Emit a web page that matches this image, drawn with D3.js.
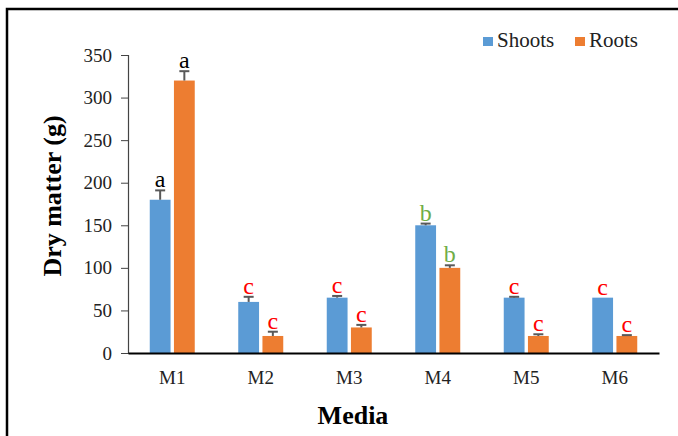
<!DOCTYPE html>
<html>
<head>
<meta charset="utf-8">
<title>Dry matter by media</title>
<script src="https://cdn.jsdelivr.net/npm/d3@7"></script>
<style>
  body { margin: 0; background: #fff; }
  svg { display: block; }
  svg text { font-family: "Liberation Serif", Tinos, "Times New Roman", serif; }
</style>
</head>
<body>
<script>
// data
var media = ["M1", "M2", "M3", "M4", "M5", "M6"];
var series = ["Shoots", "Roots"];
var shoots = [180, 60, 65, 150, 65, 65];
var roots = [320, 20, 30, 100, 20, 20];
var shootsErr = [11, 6, 2, 2, 1, 0];
var rootsErr = [11, 5, 3, 3, 2, 1];
var shootsLetters = ["a", "c", "c", "b", "c", "c"];
var rootsLetters = ["a", "c", "c", "b", "c", "c"];
var yTicks = [0, 50, 100, 150, 200, 250, 300, 350];

var w = 678, h = 436;
var colors = { Shoots: "#5B9BD5", Roots: "#ED7D31" };
var letterColors = { a: "#000000", b: "#70AD47", c: "#FF0000" };

var svg = d3.select("body").append("svg")
    .attr("width", w)
    .attr("height", h);

// outer frame (only left and top edges show in the picture)
svg.append("rect")
    .attr("x", 7).attr("y", 9)
    .attr("width", 700).attr("height", 460)
    .attr("fill", "none")
    .attr("stroke", "#000")
    .attr("stroke-width", 2.5);

var plotLeft = 128, plotRight = 659, plotTop = 55, plotBottom = 353;

var y = d3.scaleLinear().domain([0, 350]).range([plotBottom, plotTop]);
var x0 = d3.scaleBand().domain(media).range([plotLeft, plotRight]);
var bw = x0.bandwidth();
var x1 = d3.scaleBand().domain(series)
    .range([bw / 2 - 22.5, bw / 2 + 22.5])
    .paddingInner(0.14);

var flat = [];
media.forEach(function(m, i) {
  flat.push({ m: m, s: "Shoots", v: shoots[i], e: shootsErr[i], l: shootsLetters[i] });
  flat.push({ m: m, s: "Roots", v: roots[i], e: rootsErr[i], l: rootsLetters[i] });
});

function cx(d) { return x0(d.m) + x1(d.s) + x1.bandwidth() / 2; }

// y axis
var yAxis = svg.append("g")
    .attr("transform", "translate(" + plotLeft + ",0)")
    .call(d3.axisLeft(y).tickValues(yTicks).tickSize(7).tickPadding(9));
yAxis.attr("font-family", null);
yAxis.select(".domain").attr("stroke", "#444").attr("stroke-width", 1.2);
yAxis.selectAll(".tick line").attr("stroke", "#444");
yAxis.selectAll(".tick text")
    .style("font-size", "19px")
    .attr("fill", "#222");

// bars
svg.append("g").selectAll("rect")
    .data(flat)
    .enter()
    .append("rect")
    .attr("x", function(d) { return x0(d.m) + x1(d.s); })
    .attr("y", function(d) { return y(d.v); })
    .attr("width", x1.bandwidth())
    .attr("height", function(d) { return y(0) - y(d.v); })
    .attr("fill", function(d) { return colors[d.s]; });

// error bars (upper half only, like the original)
var eb = svg.append("g").selectAll("g")
    .data(flat.filter(function(d) { return d.e > 0; }))
    .enter()
    .append("g")
    .attr("stroke", "#595959")
    .attr("stroke-width", 2);
eb.append("line")
    .attr("x1", cx).attr("x2", cx)
    .attr("y1", function(d) { return y(d.v); })
    .attr("y2", function(d) { return y(d.v + d.e); });
eb.append("line")
    .attr("x1", function(d) { return cx(d) - 5; })
    .attr("x2", function(d) { return cx(d) + 5; })
    .attr("y1", function(d) { return y(d.v + d.e); })
    .attr("y2", function(d) { return y(d.v + d.e); });

// significance letters
svg.append("g").selectAll("text")
    .data(flat)
    .enter()
    .append("text")
    .attr("x", cx)
    .attr("y", function(d) { return y(d.v + d.e) - 3; })
    .attr("text-anchor", "middle")
    .style("font-size", "24px")
    .attr("fill", function(d) { return letterColors[d.l]; })
    .text(function(d) { return d.l; });

// x axis
var xAxis = svg.append("g")
    .attr("transform", "translate(0," + plotBottom + ")")
    .call(d3.axisBottom(x0).tickSize(0).tickPadding(18));
xAxis.attr("font-family", null);
xAxis.select(".domain").attr("stroke", "#000").attr("stroke-width", 2);
xAxis.selectAll(".tick text")
    .style("font-size", "19px")
    .attr("fill", "#222");

// axis titles
svg.append("text")
    .attr("x", 353).attr("y", 424)
    .attr("text-anchor", "middle")
    .style("font-size", "26px")
    .style("font-weight", "bold")
    .text("Media");

svg.append("text")
    .attr("transform", "translate(61,196) rotate(-90)")
    .attr("text-anchor", "middle")
    .style("font-size", "26px")
    .style("font-weight", "bold")
    .text("Dry matter (g)");

// legend
var legend = svg.append("g").selectAll("g")
    .data(series)
    .enter()
    .append("g")
    .attr("transform", function(d, i) { return "translate(" + [483, 575][i] + ",37)"; });
legend.append("rect")
    .attr("width", 10).attr("height", 9)
    .attr("fill", function(d) { return colors[d]; });
legend.append("text")
    .attr("x", 14).attr("y", 10)
    .style("font-size", "21px")
    .attr("fill", "#222")
    .text(function(d) { return d; });
</script>
</body>
</html>
